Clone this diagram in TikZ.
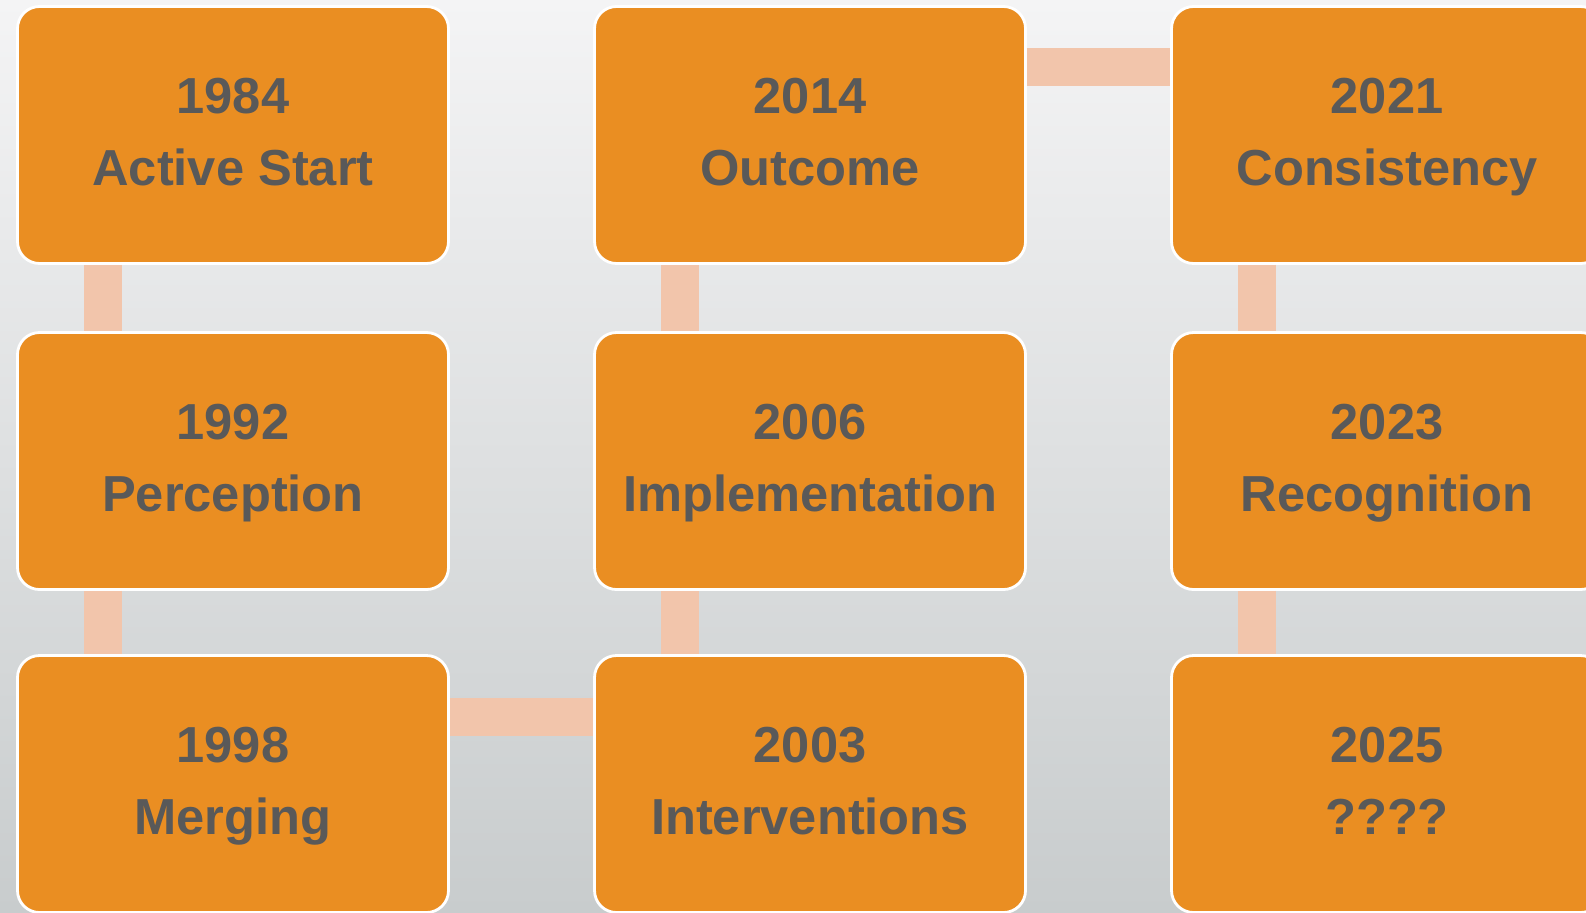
\documentclass[tikz,border=0pt]{standalone}
\usepackage{fontspec}
\setmainfont{Liberation Sans}
\usetikzlibrary{positioning}
\definecolor{cbox}{RGB}{234,142,34}
\definecolor{clink}{RGB}{242,197,171}
\definecolor{ctext}{RGB}{89,89,89}
\definecolor{bgtop}{RGB}{244,244,245}
\definecolor{bgmid}{RGB}{236,237,237}
\definecolor{bgbot}{RGB}{200,204,205}
% annee + libelle, lignes calees pour un centrage regulier
\newcommand{\etape}[2]{\rule{0pt}{13.3pt}#1\\#2\rule[-5pt]{0pt}{5pt}}

\begin{document}
\begin{tikzpicture}[
    jalon/.style={draw=white, line width=0.8pt, fill=cbox, rounded corners=0.22cm,
      minimum width=4.31cm, minimum height=2.57cm, inner sep=0pt, align=center,
      text=ctext, font=\fontsize{14.4}{20.5}\selectfont\bfseries},
    lien/.style={clink, line width=10.8pt}
  ]
  \useasboundingbox (0,0) rectangle (15.86,-9.12);
  \clip (0,0) rectangle (15.86,-9.12);
  % fond degrade
  \shade[top color=bgtop, middle color=bgmid, bottom color=bgbot]
    (0,0) rectangle (15.86,-9.12);

  % colonne 1
  \node[jalon] (b1984) at (2.33,-1.35) {\etape{1984}{Active Start}};
  \node[jalon] (b1992) at (2.33,-4.61) {\etape{1992}{Perception}};
  \node[jalon] (b1998) at (2.33,-7.84) {\etape{1998}{Merging}};
  % colonne 2 (remonte)
  \node[jalon] (b2003) at (8.10,-7.84) {\etape{2003}{Interventions}};
  \node[jalon] (b2006) at (8.10,-4.61) {\etape{2006}{Implementation}};
  \node[jalon] (b2014) at (8.10,-1.35) {\etape{2014}{Outcome}};
  % colonne 3
  \node[jalon] (b2021) at (13.87,-1.35) {\etape{2021}{Consistency}};
  \node[jalon] (b2023) at (13.87,-4.61) {\etape{2023}{Recognition}};
  \node[jalon] (b2025) at (13.87,-7.84) {\etape{2025}{????}};

  % liaisons
  \draw[lien] ([xshift=0.87cm]b1984.south west) -- ([xshift=0.87cm]b1992.north west);
  \draw[lien] ([xshift=0.87cm]b1992.south west) -- ([xshift=0.87cm]b1998.north west);
  \draw[lien] ([yshift=-0.63cm]b1998.north east) -- ([yshift=-0.63cm]b2003.north west);
  \draw[lien] ([xshift=0.87cm]b2003.north west) -- ([xshift=0.87cm]b2006.south west);
  \draw[lien] ([xshift=0.87cm]b2006.north west) -- ([xshift=0.87cm]b2014.south west);
  \draw[lien] ([yshift=-0.62cm]b2014.north east) -- ([yshift=-0.62cm]b2021.north west);
  \draw[lien] ([xshift=0.87cm]b2021.south west) -- ([xshift=0.87cm]b2023.north west);
  \draw[lien] ([xshift=0.87cm]b2023.south west) -- ([xshift=0.87cm]b2025.north west);
\end{tikzpicture}
\end{document}
